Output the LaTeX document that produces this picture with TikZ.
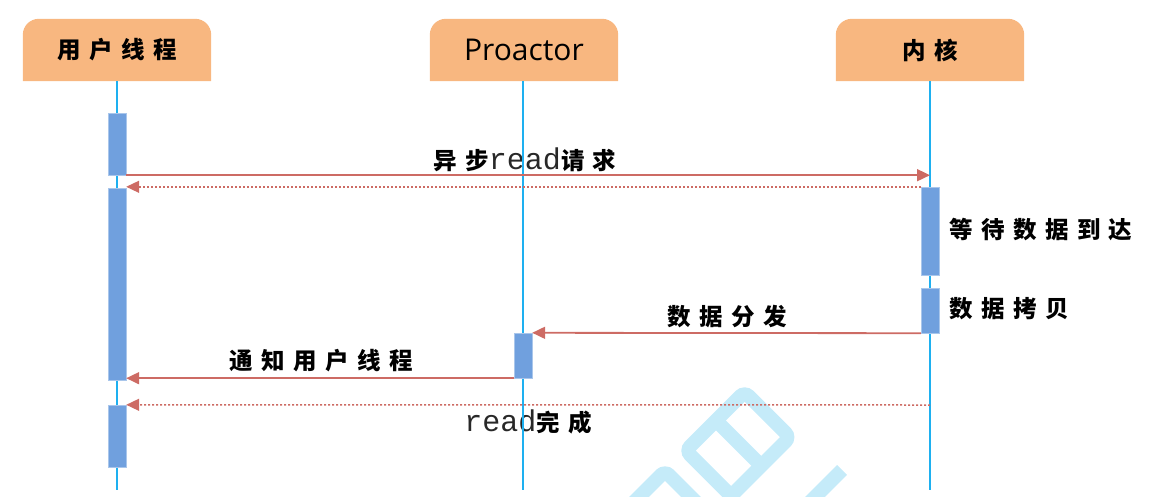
\documentclass[tikz,border=0pt]{standalone}
\usepackage{fontspec}
\setmainfont{Open Sans}
\newfontfamily\cjk[LetterSpace=36]{Noto Sans CJK SC}
\newfontfamily\pfont{Open Sans}
\newfontfamily\monof{Liberation Mono}
\usetikzlibrary{arrows.meta,backgrounds}
\definecolor{hdr}{RGB}{248,183,128}
\definecolor{life}{RGB}{30,176,240}
\definecolor{barc}{RGB}{112,160,222}
\definecolor{msg}{RGB}{205,107,100}
\definecolor{wm}{RGB}{197,235,249}
\definecolor{monotext}{RGB}{40,40,40}
\begin{document}
\begin{tikzpicture}[x=1pt,y=-1pt,
  hdrbox/.style={minimum width=188pt, minimum height=62pt, inner sep=0pt},
  lifeln/.style={draw=life, line width=1.3pt},
  actbar/.style={fill=barc, draw=barc!60!white, line width=0.4pt, minimum width=18pt, inner sep=0pt},
  msgsolid/.style={draw=msg, line width=1.8pt, -{Triangle[length=13pt,width=12pt]}},
  msgdot/.style={draw=msg, line width=1.5pt, dash pattern=on 2pt off 2pt, -{Triangle[length=13pt,width=12pt]}},
  lbl/.style={font=\cjk\bfseries\fontsize{23.5}{25}\selectfont, inner sep=0pt},
  wmline/.style={draw=wm, line width=14pt},
  diag/.style={x={(0.7071pt,-0.7071pt)}, y={(-0.7071pt,-0.7071pt)}}
]
\useasboundingbox (0,0) rectangle (1152,496);

% headers
\node[hdrbox, lbl] (h1) at (117,50) {用户线程};
\node[hdrbox, font=\pfont\fontsize{30}{32}\selectfont] (h2) at (524,50) {Proactor};
\node[hdrbox, lbl] (h3) at (930,50) {内核};

\begin{scope}[on background layer]
  \foreach \h in {h1,h2,h3}{
    \fill[hdr] (\h.south west) [rounded corners=16pt] -- (\h.north west) -- (\h.north east) [sharp corners] -- (\h.south east) -- cycle;
  }
  % watermark
  \begin{scope}[shift={(746,382)}, diag]
    \draw[wmline, rounded corners=6pt] (6,8) -- (70,8) -- (70,91) -- (6,91) -- cycle;
    \draw[wmline] (6,48.5) -- (70,48.5);
  \end{scope}
  \begin{scope}[shift={(665,461)}, diag]
    \draw[wmline, rounded corners=6pt] (7,7) -- (90,7) -- (90,100) -- (7,100) -- cycle;
  \end{scope}
  \begin{scope}[shift={(842,470)}, diag]
    \draw[wmline] (0,0) -- (0,70);
  \end{scope}
\end{scope}

% labels
\node[lbl] (t1) at (525,160) {异步{\mdseries\monof\fontsize{30}{32}\selectfont\color{monotext}read}请求};
\node[lbl, anchor=west] (t2) at (949,230) {等待数据到达};
\node[lbl, anchor=west] (t3) at (949,309) {数据拷贝};
\node[lbl] (t4) at (727,317) {数据分发};
\node[lbl] (t5) at (321,361) {通知用户线程};
\node[lbl] (t6) at (528,422) {{\mdseries\monof\fontsize{30}{32}\selectfont\color{monotext}read}完成};

% lifelines
\coordinate (e1) at (117,490);
\coordinate (e2) at (523,490);
\coordinate (e3) at (930,490);
\draw[lifeln] (h1.south) -- (e1);
\draw[lifeln] (h2.south -| e2) -- (e2);
\draw[lifeln] (h3.south) -- (e3);

% activation bars
\node[actbar, minimum height=62pt] (u1) at (117,144) {};
\node[actbar, minimum height=192pt] (u2) at (117,284) {};
\node[actbar, minimum height=62pt] (u3) at (117,436) {};
\node[actbar, minimum height=88pt] (k1) at (930,231) {};
\node[actbar, minimum height=45pt] (k2) at (930,310.5) {};
\node[actbar, minimum height=45pt] (p1) at (523,355.5) {};

% messages
\coordinate (k5) at (930,405);
\draw[msgsolid] (u1.south east) -- (u1.south east -| e3);
\draw[msgdot] (k1.north west) -- (k1.north west -| u2.east);
\draw[msgsolid] (k2.south west) -- (p1.north east);
\draw[msgsolid] (p1.south west) -- (p1.south west -| u2.east);
\draw[msgdot] (k5) -- (u3.north east);
\end{tikzpicture}
\end{document}
